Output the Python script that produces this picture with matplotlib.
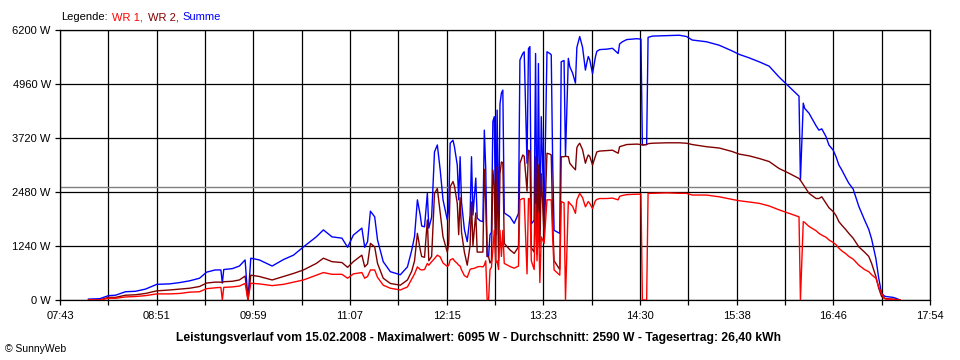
"""SunnyWeb Leistungsverlauf 15.02.2008 - WR 1, WR 2 und Summe."""

import numpy as np
import matplotlib.pyplot as plt

# Messzeitpunkte (HH:MM) und Leistung in W
zeit = [
    # Morgen
    "08:03", "08:11", "08:17", "08:22", "08:29", "08:36", "08:43", "08:51", "09:00", "09:07", "09:14",
    "09:21", "09:26", "09:32", "09:36", "09:37", "09:38", "09:44", "09:49", "09:53", "09:55", "09:57",
    # Vormittag
    "10:03", "10:12", "10:20", "10:27", "10:34", "10:43", "10:48", "10:54", "11:01", "11:05", "11:09",
    "11:15", "11:17", "11:19", "11:21", "11:24", "11:26", "11:30", "11:35", "11:42", "11:47",
    # Wolken
    "11:50", "11:52", "11:54", "11:56", "11:57", "11:59", "12:01", "12:02", "12:04", "12:06", "12:08",
    "12:10", "12:12", "12:15", "12:16", "12:17", "12:19", "12:20", "12:22", "12:23", "12:24", "12:25",
    "12:27", "12:29", "12:31", "12:32", "12:33", "12:35", "12:36", "12:38", "12:40",
    "12:41", "12:42", "12:43", "12:44", "12:45", "12:46", "12:47", "12:48", "12:49", "12:50", "12:51",
    "12:52", "12:53", "12:54", "12:55", "12:59", "13:02", "13:05", "13:06", "13:08", "13:09", "13:11",
    "13:12", "13:13", "13:14", "13:16", "13:17", "13:18", "13:19", "13:20", "13:21", "13:23", "13:25",
    "13:27", "13:28", "13:29", "13:30",
    "13:34", "13:35", "13:37", "13:38", "13:40", "13:41", "13:43", "13:45", "13:46", "13:47", "13:48",
    "13:50", "13:52", "13:53", "13:54", "13:55", "13:57", "13:59", "14:00", "14:02",
    # Nachmittag
    "14:07", "14:11", "14:15", "14:16", "14:18", "14:21", "14:28", "14:31", "14:32", "14:35", "14:36",
    "14:39", "14:49", "14:58", "15:03", "15:07", "15:17", "15:26", "15:35", "15:40", "15:47", "15:54",
    "16:01", "16:08", "16:15", "16:22", "16:23", "16:25", "16:26", "16:29", "16:34", "16:36", "16:38",
    "16:41", "16:43", "16:46", "16:48", "16:50", "16:52", "16:55", "16:57", "17:00", "17:04", "17:08",
    "17:11", "17:13", "17:16", "17:18", "17:20", "17:22", "17:23", "17:28", "17:30", "17:33",
]

wr1 = [
    0, 0, 40, 40, 70, 80, 100, 140, 140, 150, 180,
    190, 260, 280, 290, 0, 290, 300, 320, 380, 0, 385,
    370, 330, 360, 410, 460, 570, 630, 590, 590, 500, 600,
    630, 500, 540, 690, 690, 520, 340, 270, 230, 300,
    480, 600, 760, 700, 690, 700, 840, 800, 880, 950, 1030,
    990, 850, 770, 800, 920, 950, 900, 840, 800, 780, 690,
    560, 520, 700, 720, 720, 740, 760, 770, 760,
    800, 900, 0, 0, 700, 750, 1150, 1600, 850, 900, 700,
    1600, 1000, 1600, 840, 770, 730, 780, 2300, 2330, 2330, 600,
    2330, 2320, 900, 700, 2200, 900, 2000, 400, 1450, 1300, 2300,
    2300, 2300, 1450, 690,
    570, 2260, 2230, 0, 2260, 2220, 2150, 1990, 2300, 2370, 2450,
    2350, 2140, 2200, 2260, 2220, 2100, 2280, 2310, 2330,
    2330, 2340, 2300, 2380, 2400, 2420, 2430, 2430, 0, 0, 2450,
    2450, 2460, 2450, 2450, 2410, 2410, 2370, 2310, 2280, 2250, 2220,
    2160, 2070, 1990, 1910, 0, 1800, 1780, 1690, 1590, 1530, 1490,
    1440, 1380, 1320, 1270, 1190, 1130, 1060, 1000, 940, 800, 700,
    650, 580, 500, 300, 150, 40, 20, 15, 0, 0,
]

wr2 = [
    0, 0, 60, 60, 110, 120, 150, 210, 230, 250, 270,
    310, 390, 410, 410, 400, 420, 430, 460, 550, 0, 570,
    540, 460, 540, 610, 690, 840, 960, 880, 860, 750, 880,
    1030, 760, 830, 1300, 1220, 840, 500, 380, 340, 460,
    660, 900, 1530, 1150, 1000, 980, 1840, 900, 1000, 2450, 2560,
    2000, 1450, 1100, 1300, 2600, 2720, 2620, 2220, 1500, 2350, 1550,
    1100, 800, 1250, 2250, 1250, 2000, 1100, 1100, 1100,
    3000, 2200, 1000, 990, 850, 900, 2985, 2600, 900, 3060, 900,
    2900, 3170, 3150, 1300, 1150, 1070, 1220, 3140, 3330, 3300, 2500,
    3440, 3420, 1200, 1100, 3290, 1050, 3100, 1200, 2900, 1450, 3370,
    3350, 3330, 1800, 900,
    700, 3290, 3290, 3300, 3290, 3140, 3060, 2990, 3500, 3560, 3600,
    3450, 3140, 3250, 3330, 3300, 3100, 3300, 3400, 3420,
    3430, 3440, 3370, 3520, 3540, 3570, 3580, 3570, 3560, 3570, 3590,
    3600, 3610, 3610, 3600, 3570, 3520, 3490, 3410, 3350, 3310, 3250,
    3180, 3020, 2910, 2790, 2750, 2650, 2600, 2450, 2330, 2330, 2370,
    2220, 2120, 2030, 1940, 1800, 1720, 1610, 1530, 1420, 1220, 1100,
    1000, 840, 540, 270, 80, 40, 30, 20, 15, 0,
]

summe = [
    20, 30, 100, 110, 190, 200, 250, 360, 370, 400, 440,
    500, 640, 690, 690, 390, 700, 720, 780, 920, 0, 960,
    920, 780, 930, 1030, 1220, 1450, 1610, 1450, 1420, 1210, 1490,
    1650, 1210, 1340, 2040, 1910, 1380, 880, 650, 580, 760,
    1140, 1460, 2300, 1950, 1700, 1680, 2450, 1650, 1900, 3400, 3560,
    2990, 2300, 1840, 2100, 3600, 3670, 3520, 3100, 2300, 3290, 2240,
    1620, 1340, 1940, 3290, 1950, 2800, 1880, 1820, 1800,
    3900, 3000, 1000, 1000, 1500, 1550, 4100, 4210, 1500, 4360, 1500,
    4500, 4750, 4820, 2000, 1910, 1760, 1990, 5510, 5660, 5700, 3140,
    5770, 5820, 1750, 1830, 5660, 1300, 5430, 1600, 4210, 1910, 5700,
    5660, 5630, 3140, 1600,
    1530, 5470, 5500, 3300, 5550, 5360, 5210, 4980, 5800, 5930, 6050,
    5800, 5280, 5450, 5590, 5520, 5200, 5580, 5710, 5750,
    5760, 5780, 5660, 5880, 5930, 5980, 6000, 5990, 3560, 3570, 6030,
    6060, 6070, 6080, 6050, 5970, 5930, 5850, 5720, 5640, 5560, 5470,
    5370, 5120, 4900, 4680, 2750, 4520, 4400, 4290, 4000, 3900, 3930,
    3750, 3560, 3440, 3290, 3100, 2990, 2800, 2680, 2550, 2150, 1840,
    1620, 1400, 950, 500, 150, 90, 80, 60, 40, 0,
]

zeit_labels = ["07:43", "08:51", "09:59", "11:07", "12:15",
               "13:23", "14:30", "15:38", "16:46", "17:54"]
leistung_ticks = [0, 1240, 2480, 3720, 4960, 6200]
durchschnitt = 2590

TITEL = ("Leistungsverlauf vom 15.02.2008 - Maximalwert: 6095 W - "
         "Durchschnitt: 2590 W - Tagesertrag: 26,40 kWh")


def to_min(s):
    h, m = s.split(":")
    return int(h) * 60 + int(m)


t = np.array([to_min(s) for s in zeit])
t0, t1 = to_min(zeit_labels[0]), to_min(zeit_labels[-1])

plt.rcParams['font.family'] = ['Liberation Sans', 'DejaVu Sans']

fig = plt.figure(figsize=(9.6, 3.6), dpi=100)
ax = fig.add_axes([60 / 960, 60 / 360, 870 / 960, 270 / 360])

ax.plot(t, summe, color='#0000ff', lw=1.0, zorder=3)
ax.plot(t, wr2, color='#800000', lw=1.0, zorder=4)
ax.plot(t, wr1, color='#ff0000', lw=1.0, zorder=5)
ax.axhline(durchschnitt, color='#808080', lw=1.0, zorder=2)

# 18 Intervalle, nur jede zweite Linie beschriftet
xt = np.linspace(t0, t1, 19)
ax.set_xticks(xt)
ax.set_xticklabels([zeit_labels[i // 2] if i % 2 == 0 else "" for i in range(19)])
ax.set_yticks(leistung_ticks)
ax.set_yticklabels([f"{v} W" for v in leistung_ticks])
ax.set_xlim(t0, t1)
ax.set_ylim(0, leistung_ticks[-1])

ax.set_axisbelow(True)
ax.grid(True, color='black', lw=0.9)
ax.tick_params(direction='out', length=3.6, width=0.9, colors='black', labelsize=8, pad=3)
ax.tick_params(axis='x', pad=4)
for sp in ax.spines.values():
    sp.set_color('black')
    sp.set_linewidth(0.9)

# Legende als farbige Textstücke
renderer = fig.canvas.get_renderer()
xpos = 61
for txt, col in [("Legende:", "black"), ("WR 1,", "#ff0000"),
                 ("WR 2,", "#800000"), ("Summe", "#0000ff")]:
    tt = fig.text(xpos / 960, 1 - 17 / 360, txt, color=col, fontsize=8, va='center')
    bb = tt.get_window_extent(renderer=renderer)
    xpos = bb.x1 + 4.5

fig.text(479 / 960, 1 - 338 / 360, TITEL, ha='center', va='center',
         fontsize=8.7, fontweight='bold')
fig.text(5 / 960, 1 - 349 / 360, "\u00a9 SunnyWeb", fontsize=7.5, va='center')

fig.savefig("out.png", dpi=100)
